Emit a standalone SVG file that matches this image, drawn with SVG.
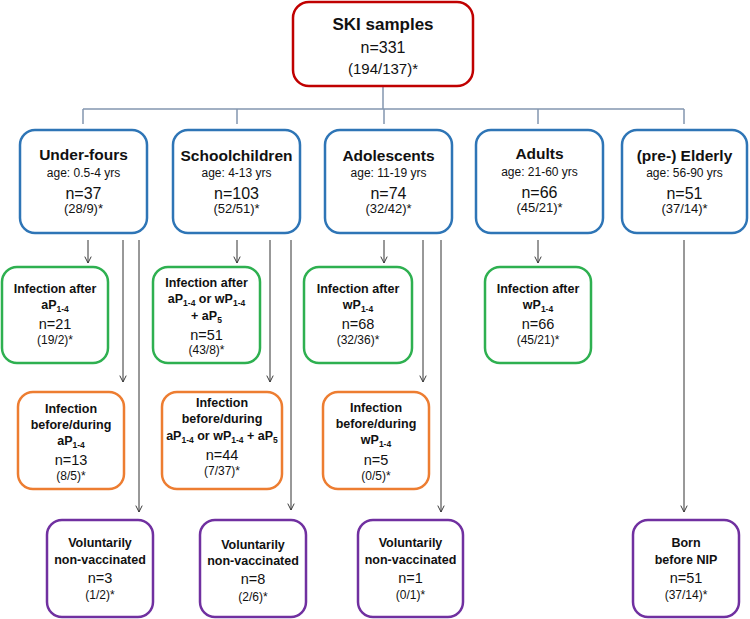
<svg xmlns="http://www.w3.org/2000/svg" width="750" height="619" viewBox="0 0 750 619">
<defs>
<marker id="arr" viewBox="0 0 10 10" refX="9" refY="5" markerWidth="8" markerHeight="8" markerUnits="userSpaceOnUse" orient="auto">
<path d="M1,1 L9,5 L1,9" fill="none" stroke="#333" stroke-width="1.2"/>
</marker>
</defs>
<style>
text{font-family:"Liberation Sans",Arial,sans-serif;fill:#111;text-anchor:middle}
.box{fill:#fff;stroke-width:2.5}
.red{stroke:#c00000}
.blue{stroke:#2e75b6}
.green{stroke:#2eb050}
.orange{stroke:#ed7d31}
.purple{stroke:#7030a0}
.b{font-weight:bold}
.tree{fill:none;stroke:#8497b0;stroke-width:1.5}
.arrow{fill:none;stroke:#333;stroke-width:1;marker-end:url(#arr)}
.t1{font-size:15.5px;font-weight:bold}
.age{font-size:12px}
.n1{font-size:16px}
.p1{font-size:13px}
.t2{font-size:12.5px;font-weight:bold}
.n2{font-size:14.5px}
.p2{font-size:12px}
</style>
<g id="connectors">
<path class="tree" d="M383,86 V109 M83,109 H684 M83,109 V124 M237,109 V124 M384,109 V124 M538,109 V124 M684,109 V124"/>
<line class="arrow" x1="88" y1="240" x2="88" y2="263"/>
<line class="arrow" x1="123" y1="240" x2="123" y2="382"/>
<line class="arrow" x1="139" y1="240" x2="139" y2="512"/>
<line class="arrow" x1="237" y1="240" x2="237" y2="263"/>
<line class="arrow" x1="270" y1="240" x2="270" y2="382"/>
<line class="arrow" x1="291" y1="240" x2="291" y2="510"/>
<line class="arrow" x1="384" y1="240" x2="384" y2="263"/>
<line class="arrow" x1="423" y1="240" x2="423" y2="382"/>
<line class="arrow" x1="441" y1="240" x2="441" y2="512"/>
<line class="arrow" x1="538" y1="240" x2="538" y2="263"/>
<line class="arrow" x1="684" y1="240" x2="684" y2="512"/>
</g>
<g id="ski">
<rect class="box red" x="293" y="2" width="180" height="84" rx="16"/>
<text x="383" y="30" font-size="17px" class="b">SKI samples</text>
<text x="383" y="53" font-size="16px">n=331</text>
<text x="383" y="74" font-size="15px">(194/137)*</text>
</g>
<g id="underfours">
<rect class="box blue" x="20" y="130" width="127" height="103" rx="15"/>
<text x="83.5" y="160" class="t1">Under-fours</text>
<text x="83.5" y="177" class="age">age: 0.5-4 yrs</text>
<text x="83.5" y="199" class="n1">n=37</text>
<text x="83.5" y="213" class="p1">(28/9)*</text>
</g>
<g id="schoolchildren">
<rect class="box blue" x="173" y="130" width="127" height="103" rx="15"/>
<text x="236.5" y="161" class="t1">Schoolchildren</text>
<text x="236.5" y="177" class="age">age: 4-13 yrs</text>
<text x="236.5" y="199" class="n1">n=103</text>
<text x="236.5" y="213" class="p1">(52/51)*</text>
</g>
<g id="adolescents">
<rect class="box blue" x="325" y="130" width="127" height="103" rx="15"/>
<text x="388.5" y="161" class="t1">Adolescents</text>
<text x="388.5" y="177" class="age">age: 11-19 yrs</text>
<text x="388.5" y="199" class="n1">n=74</text>
<text x="388.5" y="213" class="p1">(32/42)*</text>
</g>
<g id="adults">
<rect class="box blue" x="476" y="130" width="127" height="103" rx="15"/>
<text x="539.5" y="159" class="t1">Adults</text>
<text x="539.5" y="176" class="age">age: 21-60 yrs</text>
<text x="539.5" y="198" class="n1">n=66</text>
<text x="539.5" y="212" class="p1">(45/21)*</text>
</g>
<g id="elderly">
<rect class="box blue" x="622" y="130" width="125" height="103" rx="15"/>
<text x="684.5" y="161" class="t1">(pre-) Elderly</text>
<text x="684.5" y="177" class="age">age: 56-90 yrs</text>
<text x="684.5" y="199" class="n1">n=51</text>
<text x="684.5" y="213" class="p1">(37/14)*</text>
</g>
<g id="uf-after">
<rect class="box green" x="2" y="267" width="106" height="96" rx="15"/>
<text x="55" y="293" class="t2">Infection after</text>
<text x="55" y="309" class="t2">aP<tspan font-size="8.5px" dy="3">1-4</tspan></text>
<text x="55" y="329" class="n2">n=21</text>
<text x="55" y="344" class="p2">(19/2)*</text>
</g>
<g id="sc-after">
<rect class="box green" x="153" y="267" width="107" height="96" rx="15"/>
<text x="206.5" y="287" class="t2">Infection after</text>
<text x="206.5" y="303" class="t2">aP<tspan font-size="8.5px" dy="3">1-4</tspan><tspan dy="-3"> or wP</tspan><tspan font-size="8.5px" dy="3">1-4</tspan></text>
<text x="206.5" y="320" class="t2">+ aP<tspan font-size="8.5px" dy="3">5</tspan></text>
<text x="206.5" y="340" class="n2">n=51</text>
<text x="206.5" y="354" class="p2">(43/8)*</text>
</g>
<g id="ad-after">
<rect class="box green" x="304" y="267" width="108" height="96" rx="15"/>
<text x="358" y="293" class="t2">Infection after</text>
<text x="358" y="309" class="t2">wP<tspan font-size="8.5px" dy="3">1-4</tspan></text>
<text x="358" y="329" class="n2">n=68</text>
<text x="358" y="344" class="p2">(32/36)*</text>
</g>
<g id="at-after">
<rect class="box green" x="485" y="267" width="106" height="96" rx="15"/>
<text x="538" y="293" class="t2">Infection after</text>
<text x="538" y="309" class="t2">wP<tspan font-size="8.5px" dy="3">1-4</tspan></text>
<text x="538" y="329" class="n2">n=66</text>
<text x="538" y="344" class="p2">(45/21)*</text>
</g>
<g id="uf-before">
<rect class="box orange" x="18" y="392" width="106" height="97" rx="15"/>
<text x="71" y="413" class="t2">Infection</text>
<text x="71" y="429" class="t2">before/during</text>
<text x="71" y="445" class="t2">aP<tspan font-size="8.5px" dy="3">1-4</tspan></text>
<text x="71" y="465" class="n2">n=13</text>
<text x="71" y="480" class="p2">(8/5)*</text>
</g>
<g id="sc-before">
<rect class="box orange" x="162" y="392" width="120" height="97" rx="15"/>
<text x="222" y="407" class="t2">Infection</text>
<text x="222" y="423" class="t2">before/during</text>
<text x="222" y="440" class="t2" font-size="12px">aP<tspan font-size="8.5px" dy="3">1-4</tspan><tspan dy="-3"> or wP</tspan><tspan font-size="8.5px" dy="3">1-4</tspan><tspan dy="-3"> + aP</tspan><tspan font-size="8.5px" dy="3">5</tspan></text>
<text x="222" y="460" class="n2">n=44</text>
<text x="222" y="475" class="p2">(7/37)*</text>
</g>
<g id="ad-before">
<rect class="box orange" x="323" y="392" width="106" height="97" rx="15"/>
<text x="376" y="412" class="t2">Infection</text>
<text x="376" y="428" class="t2">before/during</text>
<text x="376" y="444" class="t2">wP<tspan font-size="8.5px" dy="3">1-4</tspan></text>
<text x="376" y="465" class="n2">n=5</text>
<text x="376" y="480" class="p2">(0/5)*</text>
</g>
<g id="uf-nonvac">
<rect class="box purple" x="47" y="520" width="106" height="97" rx="15"/>
<text x="100" y="547" class="t2">Voluntarily</text>
<text x="100" y="564" class="t2">non-vaccinated</text>
<text x="100" y="583" class="n2">n=3</text>
<text x="100" y="599" class="p2">(1/2)*</text>
</g>
<g id="sc-nonvac">
<rect class="box purple" x="200" y="520" width="106" height="97" rx="15"/>
<text x="253" y="549" class="t2">Voluntarily</text>
<text x="253" y="565" class="t2">non-vaccinated</text>
<text x="253" y="584" class="n2">n=8</text>
<text x="253" y="601" class="p2">(2/6)*</text>
</g>
<g id="ad-nonvac">
<rect class="box purple" x="358" y="520" width="105" height="97" rx="15"/>
<text x="410.5" y="547" class="t2">Voluntarily</text>
<text x="410.5" y="564" class="t2">non-vaccinated</text>
<text x="410.5" y="583" class="n2">n=1</text>
<text x="410.5" y="599" class="p2">(0/1)*</text>
</g>
<g id="el-born">
<rect class="box purple" x="633" y="520" width="106" height="97" rx="15"/>
<text x="686" y="547" class="t2">Born</text>
<text x="686" y="564" class="t2">before NIP</text>
<text x="686" y="583" class="n2">n=51</text>
<text x="686" y="599" class="p2">(37/14)*</text>
</g>
</svg>
